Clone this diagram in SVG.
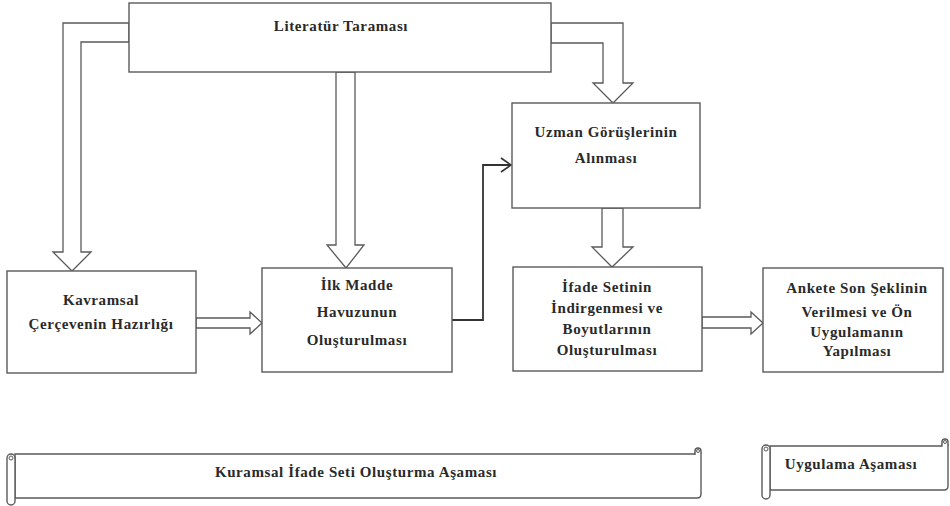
<svg xmlns="http://www.w3.org/2000/svg" width="950" height="506" viewBox="0 0 950 506">
<defs>
<style>
.box{fill:#fff;stroke:#5a5a5a;stroke-width:1.4}
.arr{fill:#fff;stroke:#5a5a5a;stroke-width:1.3;stroke-linejoin:miter}
.con{fill:none;stroke:#333;stroke-width:1.8}
.scr{fill:#fff;stroke:#5a5a5a;stroke-width:1.4}
.t{font-family:'Liberation Serif','DejaVu Serif',serif;font-weight:bold;font-size:15px;fill:#2a2a2a;text-anchor:middle;letter-spacing:0.6px}
</style>
<marker id="open" viewBox="0 0 12 16" refX="11" refY="8" markerWidth="12" markerHeight="16" markerUnits="userSpaceOnUse" orient="auto">
<path d="M1,1 L11,8 L1,15" fill="none" stroke="#333" stroke-width="1.6"/>
</marker>
</defs>
<rect width="950" height="506" fill="#fff"/>
<g id="connectors">
<polygon class="arr" points="129,23 63,23 63,252 53,252 72,271 91,252 81,252 81,42 129,42"/>
<polygon class="arr" points="551,23 623,23 623,83 633,83 613,103 593,83 603,83 603,43 551,43"/>
<polygon class="arr" points="336,72 336,245 327,245 346,268 364,245 355,245 355,72"/>
<polygon class="arr" points="602,208 602,247 592,247 612,267 633,247 623,247 623,208"/>
<polygon class="arr" points="196,318 250,318 250,312 262,323 250,334 250,328 196,328"/>
<polygon class="arr" points="702,317 751,317 751,312 763,323 751,334 751,328 702,328"/>
<polyline class="con" points="452,320 483,320 483,165 511,165" marker-end="url(#open)"/>
</g>
<g class="t" font-family="Liberation Serif, DejaVu Serif, serif" font-weight="bold">
<g id="literatur">
<rect class="box" x="129" y="3" width="422" height="69"/>
<text x="341" y="31">Literatür Taraması</text>
</g>
<g id="uzman">
<rect class="box" x="512" y="103" width="188" height="105"/>
<text x="606" y="137">Uzman Görüşlerinin</text>
<text x="606" y="163">Alınması</text>
</g>
<g id="kavramsal">
<rect class="box" x="7" y="271" width="189" height="102"/>
<text x="101" y="305">Kavramsal</text>
<text x="101" y="329">Çerçevenin Hazırlığı</text>
</g>
<g id="ilkmadde">
<rect class="box" x="262" y="268" width="190" height="104"/>
<text x="357" y="290">İlk Madde</text>
<text x="357" y="317">Havuzunun</text>
<text x="357" y="345">Oluşturulması</text>
</g>
<g id="ifade">
<rect class="box" x="513" y="267" width="189" height="104"/>
<text x="607" y="292">İfade Setinin</text>
<text x="607" y="313">İndirgenmesi ve</text>
<text x="607" y="334">Boyutlarının</text>
<text x="607" y="355">Oluşturulması</text>
</g>
<g id="ankete">
<rect class="box" x="763" y="268" width="180" height="104"/>
<text x="857" y="293">Ankete Son Şeklinin</text>
<text x="857" y="317">Verilmesi ve Ön</text>
<text x="857" y="337">Uygulamanın</text>
<text x="857" y="356">Yapılması</text>
</g>
<g id="kuramsal-asama">
<path class="scr" d="M15,454 H695 A3,3 0 0 1 701,454 V494 Q701,498 697,498 H15 Z"/>
<path class="scr" d="M695,455 V451 A3,3 0 0 1 701,451 V454"/>
<circle cx="698" cy="451" r="1.5" fill="none" stroke="#5a5a5a" stroke-width="1"/>
<rect class="scr" x="7" y="454" width="8" height="51" rx="4"/>
<circle cx="11" cy="458" r="2" fill="none" stroke="#5a5a5a" stroke-width="1"/>
<text x="356" y="477">Kuramsal İfade Seti Oluşturma Aşaması</text>
</g>
<g id="uygulama-asama">
<path class="scr" d="M770,446 H942 A3,3 0 0 1 948,446 V486 Q948,490 944,490 H770 Z"/>
<path class="scr" d="M942,446 V442 A3,3 0 0 1 948,442 V446"/>
<circle cx="945" cy="442" r="1.5" fill="none" stroke="#5a5a5a" stroke-width="1"/>
<rect class="scr" x="762" y="445" width="8" height="54" rx="4"/>
<circle cx="766" cy="449" r="2" fill="none" stroke="#5a5a5a" stroke-width="1"/>
<text x="851" y="469">Uygulama Aşaması</text>
</g>
</g>
</svg>
